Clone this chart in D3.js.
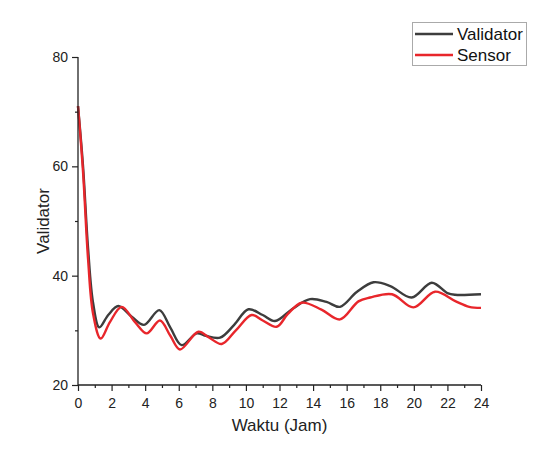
<!DOCTYPE html>
<html><head><meta charset="utf-8">
<script src="https://cdn.jsdelivr.net/npm/d3@7"></script>
<style>body{margin:0;background:#fff}svg{display:block}text{font-family:"Liberation Sans",Arial,sans-serif}</style>
</head><body>
<svg id="c" width="541" height="459"></svg>
<script>
const validatorT = [0,0.3,0.6,0.9,1.27,1.8,2.4,3.2,3.93,4.84,5.5,6.17,7.07,7.6,8.46,9.3,10.15,11.0,11.73,12.8,13.82,14.8,15.6,16.6,17.6,18.6,19.87,21.07,22.0,22.45,24];
const validatorV = [71,60,45,35,30.55,32.8,34.45,32.5,31,33.7,30.5,27.3,29.45,29.0,28.65,31,33.85,32.8,31.7,34,35.7,35.2,34.3,37,38.8,38.1,36.0,38.7,36.8,36.5,36.6];
const sensorT = [0,0.3,0.6,0.9,1.35,1.9,2.6,3.4,4.09,4.88,5.5,6.07,7.17,7.8,8.56,9.4,10.34,11.0,11.83,12.5,13.32,14.5,15.6,16.7,17.4,18.7,19.97,21.26,22.5,23.3,24];
const sensorV = [71,59,43,33,28.5,31.5,34.3,31.5,29.45,31.8,29,26.5,29.75,28.7,27.5,30,32.8,31.8,30.65,33,35.05,33.8,32,35.3,36.0,36.6,34.2,37.07,35.3,34.3,34.1];
const xTicks = [0,2,4,6,8,10,12,14,16,18,20,22,24];
const xMinor = [1,3,5,7,9,11,13,15,17,19,21,23];
const yTicks = [20,40,60,80];
const yMinor = [30,50,70];
const seriesNames = ["Validator","Sensor"];
const seriesColors = ["#3d3d3d","#e8262b"];

const svg = d3.select("#c");
const L=78,R=481,T=57,B=385;
const x = d3.scaleLinear().domain([0,24]).range([L,R]);
const y = d3.scaleLinear().domain([20,80]).range([B,T]);

const line = d3.line().x(d=>x(d[0])).y(d=>y(d[1])).curve(d3.curveCatmullRom.alpha(0.5));
const series = [validatorT.map((t,i)=>[t,validatorV[i]]), sensorT.map((t,i)=>[t,sensorV[i]])];
series.forEach((s,i)=>{
  svg.append("path").attr("d",line(s)).attr("fill","none").attr("stroke",seriesColors[i]).attr("stroke-width",2.4).attr("stroke-linejoin","round");
});

// axes
const xa = svg.append("g").attr("transform",`translate(0,${B})`)
  .call(d3.axisBottom(x).tickValues(xTicks).tickSize(6).tickPadding(7).tickFormat(d3.format("d")));
const xm = svg.append("g").attr("transform",`translate(0,${B})`)
  .call(d3.axisBottom(x).tickValues(xMinor).tickSize(3).tickFormat(""));
const ya = svg.append("g").attr("transform",`translate(${L},0)`)
  .call(d3.axisLeft(y).tickValues(yTicks).tickSize(6).tickPadding(4).tickFormat(d3.format("d")));
const ym = svg.append("g").attr("transform",`translate(${L},0)`)
  .call(d3.axisLeft(y).tickValues(yMinor).tickSize(3).tickFormat(""));
xm.select(".domain").remove();
ym.select(".domain").remove();
svg.selectAll(".domain").attr("stroke","#222").attr("stroke-width",1.3);
svg.selectAll(".tick line").attr("stroke","#222").attr("stroke-width",1.2);
svg.selectAll(".tick text").attr("font-size",14).attr("fill","#222").attr("font-family","Liberation Sans, Arial, sans-serif");
xa.select(".domain").attr("d",`M${L},0H${R}`);
ya.select(".domain").attr("d",`M0,${B}V${T}`);

svg.append("text").attr("x",(L+R)/2).attr("y",431).attr("text-anchor","middle").attr("font-size",17).attr("fill","#222").text("Waktu (Jam)");
svg.append("text").attr("transform",`translate(49,${(T+B)/2}) rotate(-90)`).attr("text-anchor","middle").attr("font-size",17).attr("fill","#222").text("Validator");

// legend
const lg = svg.append("g");
lg.append("rect").attr("x",412.5).attr("y",22.5).attr("width",114).attr("height",43).attr("fill","#fff").attr("stroke","#aaa").attr("stroke-width",1);
seriesNames.forEach((n,i)=>{
  const yy = 34 + i*21;
  lg.append("line").attr("x1",415).attr("x2",453).attr("y1",yy).attr("y2",yy).attr("stroke",seriesColors[i]).attr("stroke-width",2.4);
  lg.append("text").attr("x",457).attr("y",yy+6).attr("font-size",17).attr("fill","#111").text(n);
});
</script>
</body></html>
